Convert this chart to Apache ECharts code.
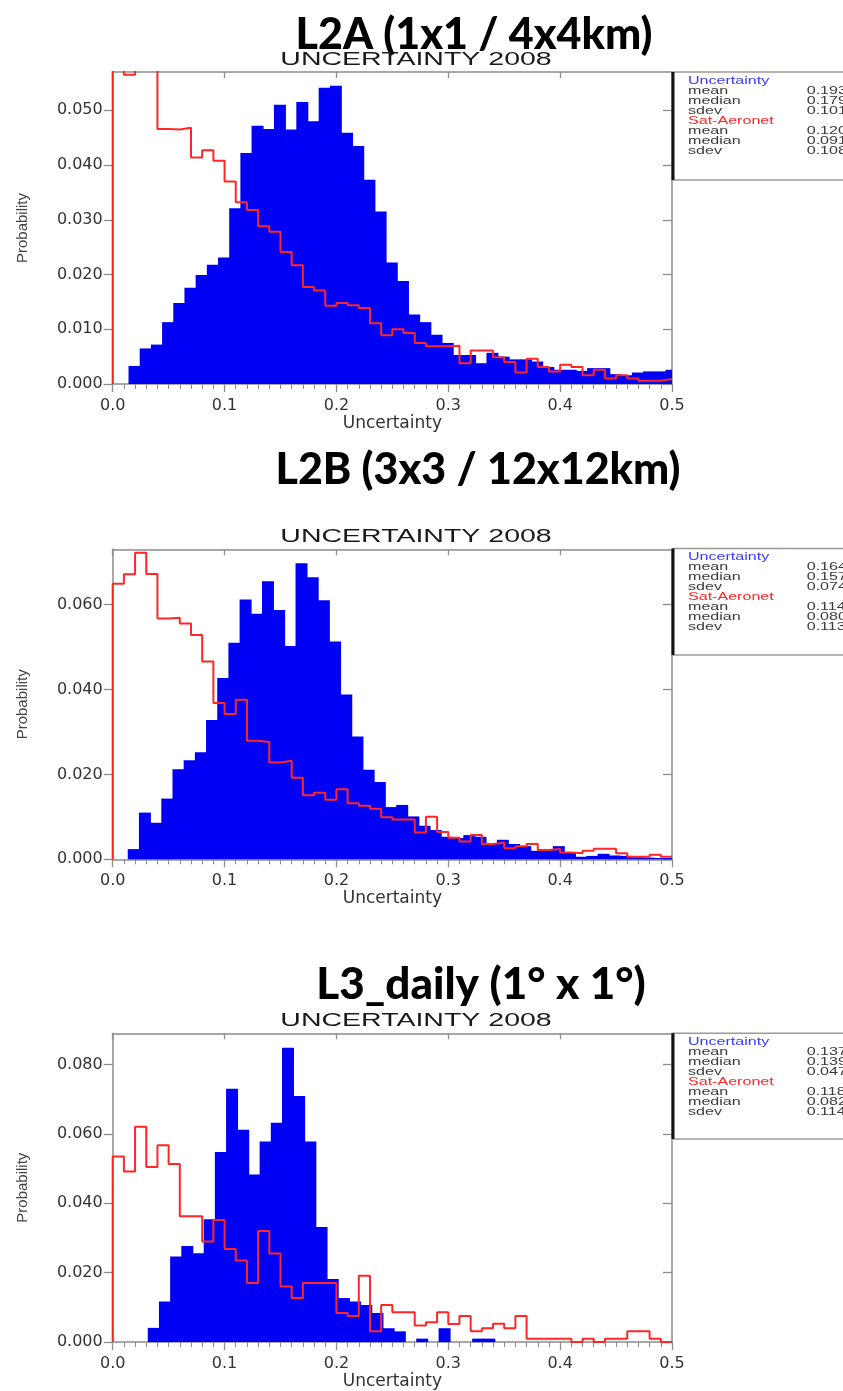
<!DOCTYPE html>
<html>
<head>
<meta charset="utf-8">
<script src="https://cdn.jsdelivr.net/npm/echarts@6/dist/echarts.min.js"></script>
<style>
  html, body { margin: 0; padding: 0; background: #fff; }
  #chart { width: 843px; height: 1391px; }
</style>
</head>
<body>
<div id="chart"></div>
<script>
// histogram data, bin width 0.01 on the Uncertainty axis
const binWidth = 0.01
const xTicks = [0, 0.1, 0.2, 0.3, 0.4, 0.5]

const panelTitles = ['L2A (1x1 / 4x4km)', 'L2B (3x3 / 12x12km)', 'L3_daily (1° x 1°)']
const subTitle = 'UNCERTAINTY 2008'
const statNames = ['mean', 'median', 'sdev']

const yMax = [0.057, 0.073, 0.089]
const yInterval = [0.01, 0.02, 0.02]
const l2aYTicks = [0, 0.01, 0.02, 0.03, 0.04, 0.05]
const l2bYTicks = [0, 0.02, 0.04, 0.06]
const l3YTicks = [0, 0.02, 0.04, 0.06, 0.08]

// L2A
const l2aUncStart = 0.0045
const l2aUnc = [0, 0.0033, 0.0065, 0.0072, 0.0113, 0.0148, 0.0176, 0.0199, 0.0218, 0.0231,
  0.0321, 0.0422, 0.0472, 0.0466, 0.0510, 0.0465, 0.0515, 0.0480, 0.0541, 0.0545,
  0.0459, 0.0435, 0.0373, 0.0315, 0.0222, 0.0188, 0.0127, 0.0113, 0.0090, 0.0075,
  0.0053, 0.0053, 0.0038, 0.0057, 0.0050, 0.0045, 0.0045, 0.0041, 0.0031, 0.0026,
  0.0026, 0.0024, 0.0029, 0.0029, 0.0018, 0.0016, 0.0021, 0.0023, 0.0023, 0.0026]
const l2aSatAer = [0.0600, 0.0565, 0.0610, 0.0590, 0.0466, 0.0465, 0.0468, 0.0414, 0.0427, 0.0408,
  0.0370, 0.0332, 0.0318, 0.0288, 0.0278, 0.0241, 0.0217, 0.0177, 0.0171, 0.0143,
  0.0148, 0.0144, 0.0139, 0.0111, 0.0089, 0.0100, 0.0093, 0.0075, 0.0069, 0.0069,
  0.0070, 0.0038, 0.0061, 0.0061, 0.0049, 0.0040, 0.0021, 0.0046, 0.0031, 0.0023,
  0.0035, 0.0031, 0.0016, 0.0026, 0.0010, 0.0016, 0.0010, 0.0006, 0.0006, 0.0009]
const l2aUncStats = ['0.193', '0.179', '0.101']
const l2aSatStats = ['0.120', '0.091', '0.108']

// L2B
const l2bUncStart = 0.0038
const l2bUnc = [0, 0.0024, 0.0110, 0.0086, 0.0143, 0.0212, 0.0233, 0.0252, 0.0328, 0.0427,
  0.0510, 0.0612, 0.0578, 0.0655, 0.0587, 0.0502, 0.0697, 0.0664, 0.0610, 0.0513,
  0.0388, 0.0289, 0.0211, 0.0182, 0.0123, 0.0128, 0.0101, 0.0079, 0.0069, 0.0053,
  0.0050, 0.0057, 0.0053, 0.0038, 0.0046, 0.0036, 0.0031, 0.0020, 0.0024, 0.0031,
  0.0016, 0.0006, 0.0008, 0.0013, 0.0009, 0.0008, 0.0005, 0.0004, 0.0003, 0.0003]
const l2bSatAer = [0.0649, 0.0671, 0.0722, 0.0672, 0.0567, 0.0569, 0.0555, 0.0528, 0.0466, 0.0368,
  0.0342, 0.0376, 0.0279, 0.0276, 0.0228, 0.0232, 0.0192, 0.0151, 0.0157, 0.0140,
  0.0165, 0.0132, 0.0126, 0.0119, 0.0099, 0.0094, 0.0094, 0.0063, 0.0100, 0.0064,
  0.0051, 0.0042, 0.0057, 0.0036, 0.0039, 0.0026, 0.0031, 0.0036, 0.0022, 0.0024,
  0.0016, 0.0014, 0.0020, 0.0025, 0.0025, 0.0014, 0.0006, 0.0006, 0.0011, 0.0006]
const l2bUncStats = ['0.164', '0.157', '0.074']
const l2bSatStats = ['0.114', '0.080', '0.113']

// L3 daily
const l3UncStart = 0.0017
const l3Unc = [0, 0, 0, 0.0041, 0.0117, 0.0247, 0.0277, 0.0256, 0.0354, 0.0548,
  0.0730, 0.0612, 0.0483, 0.0578, 0.0632, 0.0848, 0.0709, 0.0578, 0.0332, 0.0182,
  0.0127, 0.0117, 0.0107, 0.0084, 0.0040, 0.0031, 0, 0.0010, 0, 0.0040,
  0, 0, 0.0010, 0.0010, 0, 0, 0, 0, 0, 0,
  0, 0, 0, 0, 0, 0, 0, 0, 0, 0]
const l3SatAer = [0.0535, 0.0492, 0.0621, 0.0505, 0.0567, 0.0513, 0.0363, 0.0363, 0.0290, 0.0352,
  0.0268, 0.0235, 0.0170, 0.0320, 0.0255, 0.0160, 0.0127, 0.0170, 0.0170, 0.0170,
  0.0084, 0.0075, 0.0191, 0.0031, 0.0107, 0.0086, 0.0086, 0.0048, 0.0057, 0.0086,
  0.0052, 0.0075, 0.0031, 0.0040, 0.0053, 0.0040, 0.0075, 0.0010, 0.0010, 0.0010,
  0.0010, 0, 0.0010, 0, 0.0010, 0.0010, 0.0031, 0.0031, 0.0010, 0]
const l3UncStats = ['0.137', '0.139', '0.047']
const l3SatStats = ['0.118', '0.082', '0.114']

const panels = [
  { yTicks: l2aYTicks, uncStart: l2aUncStart, unc: l2aUnc, sat: l2aSatAer, uncStats: l2aUncStats, satStats: l2aSatStats },
  { yTicks: l2bYTicks, uncStart: l2bUncStart, unc: l2bUnc, sat: l2bSatAer, uncStats: l2bUncStats, satStats: l2bSatStats },
  { yTicks: l3YTicks, uncStart: l3UncStart, unc: l3Unc, sat: l3SatAer, uncStats: l3UncStats, satStats: l3SatStats }
]

// layout
const gridLeft = 112.7
const gridWidth = 559.3
const gridTops = [72, 549.3, 1033.3]
const gridHeights = [312, 310, 310]
const titleCenters = [[469, 37], [473, 472], [476, 986]]
const titleSizes = [43, 43, 44]
const boxTops = [72, 548.5, 1033.3]
const boxHeights = [108, 106.5, 105.7]

const axisGray = '#8c8c8c'
const blue = '#0000f5'
const red = '#ff2626'
const wideScale = 1.46

function histBars(start, vals) {
  return vals
    .map((v, k) => [start + k * binWidth, start + (k + 1) * binWidth, v])
    .filter((d) => d[2] > 0)
}

function stepPoints(vals) {
  const pts = [[0, 0]]
  vals.forEach((v, i) => pts.push([i * binWidth, v]))
  pts.push([vals.length * binWidth, vals[vals.length - 1]])
  return pts
}

function renderBar(params, api) {
  const p0 = api.coord([api.value(0), api.value(2)])
  const p1 = api.coord([api.value(1), 0])
  const cs = params.coordSys
  // widen a touch so neighbouring bars don't leave hairline seams
  const shape = echarts.graphic.clipRectByRect(
    { x: p0[0] - 0.4, y: p0[1], width: p1[0] - p0[0] + 0.8, height: p1[1] - p0[1] },
    { x: cs.x, y: cs.y, width: cs.width, height: cs.height }
  )
  return shape && {
    type: 'rect',
    shape,
    style: { fill: blue }
  }
}

const grid = []
const xAxis = []
const yAxis = []
const series = []
const graphic = []
const title = []

panels.forEach((p, i) => {
  grid.push({ left: gridLeft, top: gridTops[i], width: gridWidth, height: gridHeights[i] })

  xAxis.push({
    type: 'value',
    gridIndex: i,
    min: 0,
    max: 0.5,
    interval: 0.1,
    axisLine: { onZero: false, lineStyle: { color: axisGray, width: 1.5 } },
    axisTick: { length: 8, customValues: xTicks, lineStyle: { color: axisGray, width: 1.3 } },
    minorTick: { show: true, splitNumber: 10, length: 5, lineStyle: { color: axisGray, width: 1.1 } },
    splitLine: { show: false },
    axisLabel: {
      customValues: xTicks,
      formatter: (v) => v.toFixed(1),
      fontFamily: 'DejaVu Sans',
      fontSize: 16,
      color: '#333',
      margin: 14
    },
    name: 'Uncertainty',
    nameLocation: 'middle',
    nameGap: 30,
    nameTextStyle: { fontFamily: 'DejaVu Sans', fontSize: 17, color: '#333' }
  })
  xAxis.push({
    type: 'value',
    gridIndex: i,
    position: 'top',
    min: 0,
    max: 0.5,
    interval: 0.1,
    axisLine: { onZero: false, lineStyle: { color: axisGray, width: 1.5 } },
    axisTick: { inside: true, length: 6, lineStyle: { color: axisGray, width: 1.3 } },
    axisLabel: { show: false },
    splitLine: { show: false }
  })

  yAxis.push({
    type: 'value',
    gridIndex: i,
    min: 0,
    max: yMax[i],
    interval: yInterval[i],
    axisLine: { show: true, onZero: false, lineStyle: { color: axisGray, width: 1.5 } },
    axisTick: { show: true, length: 9, customValues: p.yTicks, lineStyle: { color: axisGray, width: 1.3 } },
    splitLine: { show: false },
    axisLabel: {
      customValues: p.yTicks,
      formatter: (v) => v.toFixed(3),
      fontFamily: 'DejaVu Sans',
      fontSize: 16,
      color: '#333',
      margin: 10
    },
    name: 'Probability',
    nameLocation: 'middle',
    nameRotate: 90,
    nameGap: 82,
    nameTextStyle: { fontFamily: 'Liberation Sans', fontSize: 15, color: '#444' }
  })
  yAxis.push({
    type: 'value',
    gridIndex: i,
    position: 'right',
    min: 0,
    max: yMax[i],
    interval: yInterval[i],
    axisLine: { show: true, onZero: false, lineStyle: { color: axisGray, width: 1.5 } },
    axisTick: { show: true, inside: true, length: 9, customValues: p.yTicks, lineStyle: { color: axisGray, width: 1.3 } },
    axisLabel: { show: false },
    splitLine: { show: false }
  })

  series.push({
    name: 'Uncertainty',
    type: 'custom',
    xAxisIndex: 2 * i,
    yAxisIndex: 2 * i,
    renderItem: renderBar,
    encode: { x: [0, 1], y: 2 },
    data: histBars(p.uncStart, p.unc)
  })
  series.push({
    name: 'Sat-Aeronet',
    type: 'line',
    xAxisIndex: 2 * i,
    yAxisIndex: 2 * i,
    step: 'end',
    showSymbol: false,
    clip: true,
    lineStyle: { color: red, width: 2 },
    data: stepPoints(p.sat)
  })

  title.push({
    text: panelTitles[i],
    left: titleCenters[i][0],
    top: titleCenters[i][1] - 28,
    textAlign: 'center',
    textStyle: { fontFamily: 'Lato', fontWeight: 900, fontSize: titleSizes[i], color: '#000' }
  })

  graphic.push({
    type: 'text',
    x: 416,
    y: gridTops[i] - 12.5,
    scaleX: 1.5,
    z: 50,
    style: {
      text: subTitle,
      fontFamily: 'Liberation Sans',
      fontSize: 19,
      fill: '#1a1a1a',
      align: 'center',
      verticalAlign: 'middle'
    }
  })

  // stats box
  const top = boxTops[i]
  graphic.push({
    type: 'rect',
    z: 60,
    shape: { x: 673, y: top, width: 200, height: boxHeights[i] },
    style: { fill: '#fff', stroke: '#9a9a9a', lineWidth: 1.5 }
  })
  graphic.push({
    type: 'line',
    z: 61,
    shape: { x1: 673, y1: top, x2: 673, y2: top + boxHeights[i] },
    style: { stroke: '#111', lineWidth: 3 }
  })
  const rows = [['Uncertainty', null, '#3a3aff']]
  statNames.forEach((n, r) => rows.push([n, p.uncStats[r], '#3a3a3a']))
  rows.push(['Sat-Aeronet', null, red])
  statNames.forEach((n, r) => rows.push([n, p.satStats[r], '#3a3a3a']))
  rows.forEach((row, r) => {
    const y = top + 8.5 + r * 10.05
    graphic.push({
      type: 'text', x: 688, y, scaleX: wideScale, z: 62,
      style: { text: row[0], fontFamily: 'Liberation Sans', fontSize: 11, fill: row[2], verticalAlign: 'middle' }
    })
    if (row[1]) {
      graphic.push({
        type: 'text', x: 806.7, y, scaleX: wideScale, z: 62,
        style: { text: row[1], fontFamily: 'Liberation Sans', fontSize: 11, fill: '#3a3a3a', verticalAlign: 'middle' }
      })
    }
  })
})

const chart = echarts.init(document.getElementById('chart'))
chart.setOption({
  animation: false,
  backgroundColor: '#fff',
  title,
  grid,
  xAxis,
  yAxis,
  series,
  graphic
})
</script>
</body>
</html>
